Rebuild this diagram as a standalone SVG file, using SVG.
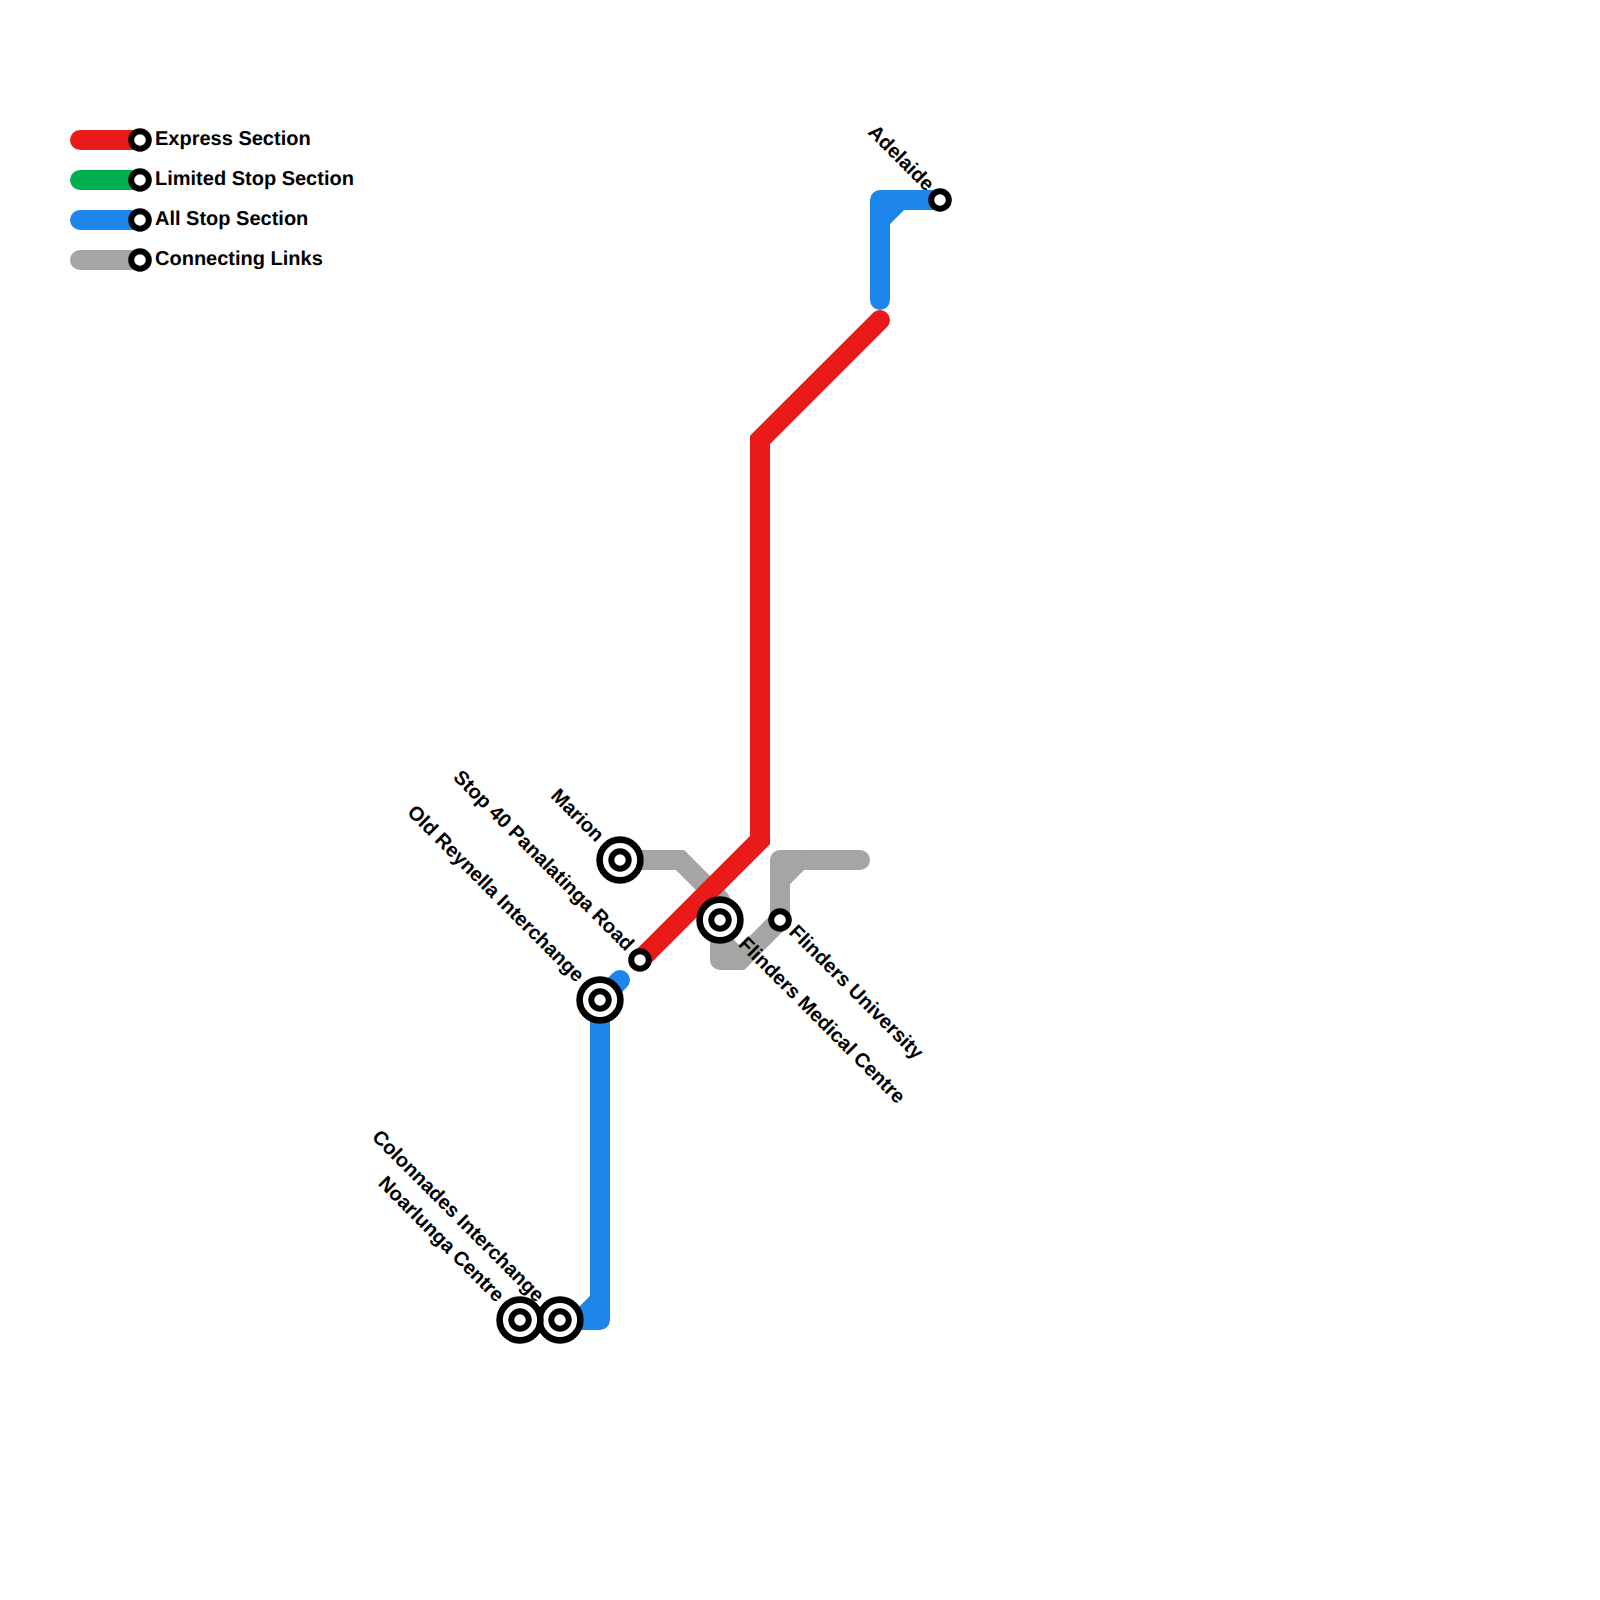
<svg xmlns="http://www.w3.org/2000/svg" width="1600" height="1600" viewBox="0 0 1600 1600">
<style>
.l{fill:none;stroke-width:20;stroke-linecap:round;stroke-linejoin:miter;stroke-miterlimit:10}
.r{stroke:#e91a1a}.g{stroke:#00b050}.b{stroke:#1c86ea}.k{stroke:#a5a5a5}
.c{fill:none;stroke-width:20;stroke-linecap:round;stroke-linejoin:round}
.o{fill:#fff;stroke:#000;stroke-width:6}
.u{fill:#fff;stroke:#000;stroke-width:6.6}
.i{fill:#fff;stroke:#000;stroke-width:6}
text{font-family:"Liberation Sans",Arial,sans-serif;font-size:20px;font-weight:bold;fill:#000;text-rendering:geometricPrecision}
.e{text-anchor:end}
</style>
<rect width="1600" height="1600" fill="#fff"/>
<g id="connectors">
<path class="c k" d="M80 260H140"/>
<path class="c b" d="M80 220H140"/>
<path class="c g" d="M80 180H140"/>
<path class="c r" d="M80 140H140"/>
<path class="l k" d="M620 860H680L720 900"/>
<path class="c k" d="M720 900V960H730"/>
<path class="c k" d="M720 940L740 960"/>
<path class="l k" d="M730 960H740L780 920V880L800 860H860"/>
<path class="c k" d="M780 880V860H800"/>
<path class="l b" d="M620 980L600 1000V1300L580 1320H560"/>
<path class="c b" d="M600 1300V1320H580"/>
<path class="l b" d="M880 300V220L900 200H940"/>
<path class="c b" d="M880 220V200H900"/>
<path class="l r" d="M640 960L760 840V440L880 320"/>
</g>
<g id="legend-express"><circle class="o" cx="140" cy="140" r="8.8"/><text x="155" y="145">Express Section</text></g>
<g id="legend-limited"><circle class="o" cx="140" cy="180" r="8.8"/><text x="155" y="185">Limited Stop Section</text></g>
<g id="legend-all"><circle class="o" cx="140" cy="220" r="8.8"/><text x="155" y="225">All Stop Section</text></g>
<g id="legend-links"><circle class="o" cx="140" cy="260" r="8.8"/><text x="155" y="265">Connecting Links</text></g>
<g id="adelaide"><circle class="o" cx="940" cy="200" r="8.8"/><text class="e" transform="translate(926 192) rotate(45)">Adelaide</text></g>
<g id="marion"><circle class="u" cx="620" cy="860" r="20.4"/><circle class="i" cx="620" cy="860" r="8.7"/><text class="e" transform="translate(596 843) rotate(45)">Marion</text></g>
<g id="stop40"><circle class="o" cx="640" cy="960" r="8.8"/><text class="e" transform="translate(626 952) rotate(45)">Stop 40 Panalatinga Road</text></g>
<g id="old-reynella"><circle class="u" cx="600" cy="1000" r="20.4"/><circle class="i" cx="600" cy="1000" r="8.7"/><text class="e" transform="translate(576 983) rotate(45)">Old Reynella Interchange</text></g>
<g id="flinders-medical"><circle class="u" cx="720" cy="920" r="20.4"/><circle class="i" cx="720" cy="920" r="8.7"/><text transform="translate(737.5 945) rotate(45)">Flinders Medical Centre</text></g>
<g id="flinders-university"><circle class="o" cx="780" cy="920" r="8.8"/><text transform="translate(788 933) rotate(45)">Flinders University</text></g>
<g id="colonnades"><circle class="u" cx="560" cy="1320" r="20.4"/><circle class="i" cx="560" cy="1320" r="8.7"/><text class="e" transform="translate(536 1303) rotate(45)">Colonnades Interchange</text></g>
<g id="noarlunga"><circle class="u" cx="520" cy="1320" r="20.4"/><circle class="i" cx="520" cy="1320" r="8.7"/><text class="e" transform="translate(496 1303) rotate(45)">Noarlunga Centre</text></g>
</svg>
